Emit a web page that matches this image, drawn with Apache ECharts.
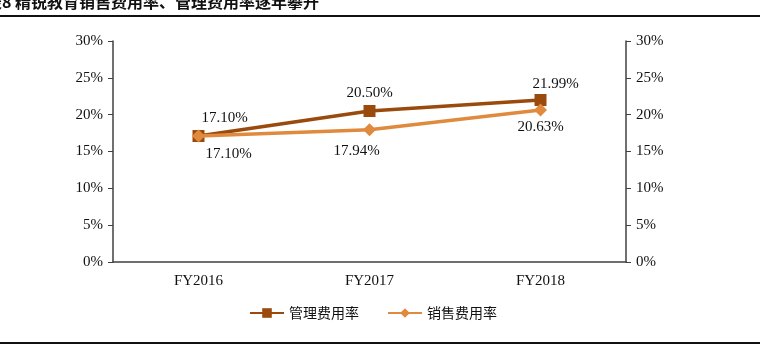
<!DOCTYPE html>
<html>
<head>
<meta charset="utf-8">
<script src="https://cdn.jsdelivr.net/npm/echarts@6/dist/echarts.min.js"></script>
<style>
  html, body { margin: 0; padding: 0; background: #fff; }
  #chart { width: 760px; height: 351px; }
</style>
</head>
<body>
<div id="chart"></div>
<script>
// 数据
var categories = ["FY2016", "FY2017", "FY2018"];
var guanliRate = [17.10, 20.50, 21.99];   // 管理费用率
var xiaoshouRate = [17.10, 17.94, 20.63]; // 销售费用率
var seriesNames = ["管理费用率", "销售费用率"];
var titleText = "表8 精锐教育销售费用率、管理费用率逐年攀升";

var serif = "'Liberation Serif', 'Times New Roman', serif";
var cjk = "'Noto Sans CJK SC', sans-serif";
var axisColor = "#404040";

var chart = echarts.init(document.getElementById("chart"));

function pctAxis(pos) {
  return {
    type: "value",
    position: pos,
    min: 0,
    max: 30,
    interval: 5,
    splitLine: { show: false },
    axisLine: { show: true, lineStyle: { color: axisColor, width: 1.5 } },
    axisTick: { show: true, length: 5, lineStyle: { color: axisColor } },
    axisLabel: {
      color: "#111",
      fontFamily: serif,
      fontSize: 15,
      margin: 10,
      formatter: "{value}%"
    }
  };
}

var option = {
  animation: false,
  backgroundColor: "#fff",
  grid: { left: 113, right: 134, top: 41, bottom: 89 },
  graphic: [
    {
      type: "text", left: -14, top: -6,
      style: { text: titleText, font: "bold 16px " + cjk, fill: "#111" }
    },
    {
      type: "rect", shape: { x: 0, y: 15, width: 760, height: 2 },
      style: { fill: "#111" }
    },
    {
      type: "rect", shape: { x: 0, y: 342, width: 760, height: 2 },
      style: { fill: "#111" }
    }
  ],
  legend: {
    bottom: 26,
    left: 244,
    itemWidth: 34,
    itemHeight: 12,
    itemGap: 28,
    textStyle: { fontFamily: cjk, fontSize: 14, color: "#111" },
    data: seriesNames
  },
  xAxis: {
    type: "category",
    data: categories,
    boundaryGap: true,
    axisLine: { lineStyle: { color: axisColor, width: 1.5 } },
    axisTick: { show: false },
    axisLabel: { color: "#111", fontFamily: serif, fontSize: 15, margin: 12 }
  },
  yAxis: [pctAxis("left"), pctAxis("right")],
  series: [
    {
      name: seriesNames[0],
      type: "line",
      data: guanliRate,
      symbol: "rect",
      symbolSize: 12,
      z: 3,
      lineStyle: { color: "#9A4A0C", width: 3.5 },
      itemStyle: { color: "#9A4A0C" },
      label: {
        show: true,
        position: "top",
        distance: 4,
        fontFamily: serif,
        fontSize: 15,
        color: "#111",
        formatter: function (p) { return p.value.toFixed(2) + "%"; }
      },
      labelLayout: function (p) {
        var dx = [26, 0, 15];
        var dy = [0, 0, 2];
        return { dx: dx[p.dataIndex], dy: dy[p.dataIndex] };
      }
    },
    {
      name: seriesNames[1],
      type: "line",
      data: xiaoshouRate,
      symbol: "diamond",
      symbolSize: 13,
      z: 4,
      lineStyle: { color: "#E08A3E", width: 3.5 },
      itemStyle: { color: "#E08A3E" },
      label: {
        show: true,
        position: "bottom",
        distance: 4,
        fontFamily: serif,
        fontSize: 15,
        color: "#111",
        formatter: function (p) { return p.value.toFixed(2) + "%"; }
      },
      labelLayout: function (p) {
        var dx = [30, -13, 0];
        var dy = [0, 3, -1];
        return { dx: dx[p.dataIndex], dy: dy[p.dataIndex] };
      }
    }
  ]
};

chart.setOption(option);
</script>
</body>
</html>
